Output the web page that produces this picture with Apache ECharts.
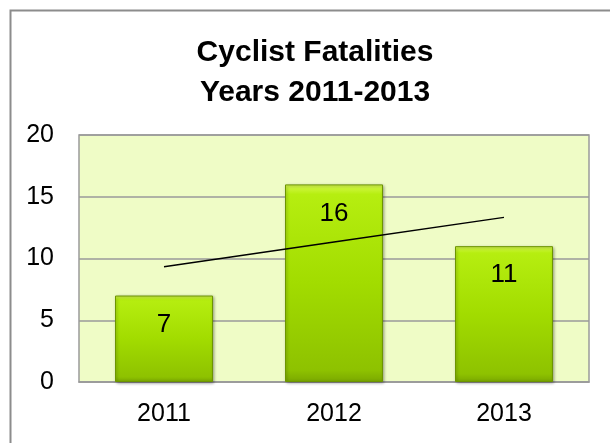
<!DOCTYPE html>
<html>
<head>
<meta charset="utf-8">
<script src="https://cdn.jsdelivr.net/npm/echarts@6/dist/echarts.min.js"></script>
<style>
  html, body { margin: 0; padding: 0; background: #fff; }
  #chart { width: 610px; height: 443px; }
</style>
</head>
<body>
<div id="chart"></div>
<script>
// chart values
var years = ["2011", "2012", "2013"];
var fatalities = [7, 16, 11];
var trendValues = [9.33, 11.33, 13.33];
var yTicks = [0, 5, 10, 15, 20];

var fontName = "Liberation Sans, Arial, sans-serif";

var chart = echarts.init(document.getElementById("chart"));

chart.setOption({
    animation: false,
    backgroundColor: "#ffffff",
    title: {
        text: "Cyclist Fatalities\nYears 2011-2013",
        left: 310,
        top: 28,
        textAlign: "center",
        textStyle: {
            fontFamily: fontName,
            fontSize: 30,
            fontWeight: "bold",
            color: "#000",
            lineHeight: 40
        }
    },
    graphic: [{
        type: "rect",
        left: 8,
        top: 8,
        silent: true,
        shape: { width: 700, height: 600 },
        style: { fill: "none", stroke: "#8c8c8c", lineWidth: 2 }
    }],
    grid: {
        left: 79,
        top: 135,
        right: 21,
        bottom: 61,
        show: true,
        backgroundColor: "#effcc6",
        borderColor: "#9a9a9a",
        borderWidth: 1.5
    },
    xAxis: {
        type: "category",
        data: years,
        axisLine: { show: true, lineStyle: { color: "#9a9a9a", width: 1.5 } },
        axisTick: { show: false },
        axisLabel: {
            fontFamily: fontName,
            fontSize: 25,
            color: "#000",
            margin: 20
        }
    },
    yAxis: {
        type: "value",
        min: yTicks[0],
        max: yTicks[yTicks.length - 1],
        interval: yTicks[1] - yTicks[0],
        axisLine: { show: false },
        axisTick: { show: false },
        splitLine: { lineStyle: { color: "#9a9a9a", width: 1.5 } },
        axisLabel: {
            fontFamily: fontName,
            fontSize: 25,
            color: "#000",
            margin: 25
        }
    },
    series: [
        {
            type: "bar",
            data: fatalities,
            barWidth: 98,
            itemStyle: {
                color: {
                    type: "linear",
                    x: 0, y: 0, x2: 0, y2: 1,
                    colorStops: [
                        { offset: 0, color: "#d8fa50" },
                        { offset: 0.05, color: "#b6ee10" },
                        { offset: 0.5, color: "#a2dc00" },
                        { offset: 0.94, color: "#8ec200" },
                        { offset: 1, color: "#7aa800" }
                    ]
                },
                borderColor: "#6c9400",
                borderWidth: 1,
                shadowColor: "rgba(0,0,0,0.35)",
                shadowBlur: 3,
                shadowOffsetX: 1,
                shadowOffsetY: 1
            },
            label: {
                show: true,
                position: "insideTop",
                distance: 16,
                fontFamily: fontName,
                fontSize: 26,
                color: "#000"
            },
            z: 2
        },
        {
            type: "line",
            data: trendValues,
            symbol: "none",
            lineStyle: { color: "#000", width: 1.5 },
            z: 3
        }
    ]
});
</script>
</body>
</html>
